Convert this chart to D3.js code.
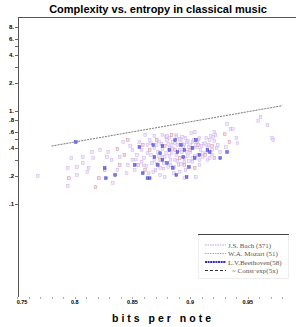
<!DOCTYPE html>
<html>
<head>
<meta charset="utf-8">
<script src="https://cdn.jsdelivr.net/npm/d3@7.9.0/dist/d3.min.js"></script>
<style>
  body { margin: 0; background: #fff; }
  svg { display: block; font-family: "Liberation Sans", Arial, sans-serif; }
</style>
</head>
<body>
<svg id="chart" width="300" height="327"></svg>
<script>
// [bits per note, complexity]
const bach = [
  [0.768,0.200],[0.794,0.244],[0.794,0.156],[0.797,0.312],[0.802,0.250],[0.802,0.205],
  [0.807,0.320],[0.807,0.276],[0.811,0.221],[0.812,0.244],[0.815,0.362],[0.816,0.312],
  [0.822,0.381],[0.828,0.320],[0.829,0.362],[0.832,0.298],[0.833,0.168],[0.837,0.232],
  [0.839,0.320],[0.842,0.464],[0.845,0.215],[0.846,0.263],[0.848,0.420],[0.850,0.298],
  [0.850,0.381],[0.852,0.232],[0.854,0.337],[0.858,0.284],[0.861,0.552],[0.863,0.353],
  [0.865,0.488],[0.867,0.276],[0.869,0.400],[0.870,0.232],[0.872,0.362],[0.874,0.244],
  [0.875,0.442],[0.876,0.320],[0.878,0.320],[0.879,0.526],[0.880,0.488],[0.881,0.250],
  [0.882,0.381],[0.882,0.400],[0.883,0.298],[0.884,0.353],[0.885,0.464],[0.886,0.215],
  [0.887,0.298],[0.888,0.552],[0.889,0.431],[0.890,0.263],[0.891,0.381],[0.892,0.488],
  [0.893,0.526],[0.895,0.312],[0.895,0.431],[0.896,0.232],[0.897,0.362],[0.898,0.476],
  [0.899,0.410],[0.900,0.362],[0.901,0.580],[0.902,0.464],[0.902,0.284],[0.903,0.400],
  [0.904,0.595],[0.905,0.195],[0.906,0.410],[0.907,0.337],[0.908,0.512],[0.909,0.381],
  [0.911,0.353],[0.912,0.442],[0.913,0.452],[0.915,0.298],[0.915,0.410],[0.917,0.488],
  [0.918,0.539],[0.919,0.381],[0.920,0.526],[0.921,0.595],[0.922,0.552],[0.924,0.431],
  [0.926,0.362],[0.931,0.410],[0.932,0.725],[0.935,0.640],[0.937,0.640],[0.940,0.512],
  [0.941,0.452],[0.959,0.781],[0.961,0.862],[0.967,0.707],[0.971,0.512],[0.972,0.488],
  [0.858,0.381],[0.860,0.312],[0.862,0.256],[0.863,0.431],[0.866,0.337],[0.868,0.221],
  [0.869,0.298],[0.871,0.431],[0.873,0.328],[0.876,0.390],[0.877,0.276],[0.879,0.353],
  [0.881,0.442],[0.882,0.328],[0.883,0.263],[0.885,0.390],[0.887,0.452],[0.888,0.337],
  [0.889,0.290],[0.891,0.500],[0.893,0.362],[0.894,0.410],[0.895,0.284],[0.896,0.512],
  [0.898,0.328],[0.900,0.431],[0.902,0.312],[0.903,0.488],[0.905,0.431],[0.907,0.488],
  [0.908,0.298],[0.910,0.420],[0.914,0.512],[0.916,0.431],[0.921,0.476],[0.923,0.400],
  [0.869,0.539],[0.876,0.552],[0.882,0.512],[0.888,0.526],[0.874,0.205],[0.878,0.195],
  [0.891,0.221],[0.908,0.263],[0.917,0.312],[0.895,0.190],[0.856,0.464],[0.866,0.450],
  [0.873,0.470],[0.880,0.540],[0.884,0.430],[0.893,0.440],[0.897,0.460],[0.906,0.470],
  [0.853,0.300],[0.860,0.260],[0.864,0.215],[0.871,0.270],[0.877,0.240],[0.886,0.250],
  [0.892,0.270],[0.899,0.290],[0.904,0.330],[0.911,0.320],[0.914,0.360],[0.919,0.340]
];
const mozart = [
  [0.818,0.152],[0.821,0.190],[0.837,0.390],[0.843,0.337],[0.871,0.488],[0.934,0.464],
  [0.795,0.190],[0.846,0.488],[0.855,0.263],[0.861,0.232],[0.878,0.420],[0.884,0.552],
  [0.891,0.312],[0.900,0.381],[0.907,0.431],[0.913,0.337],[0.921,0.312],[0.930,0.565],
  [0.839,0.263],[0.826,0.232],[0.865,0.381],[0.887,0.381],[0.895,0.263],[0.874,0.298],
  [0.904,0.244],[0.919,0.420],[0.859,0.431]
];
const beethoven = [
  [0.801,0.464],[0.826,0.244],[0.827,0.190],[0.835,0.205],[0.856,0.410],[0.859,0.215],
  [0.863,0.190],[0.865,0.190],[0.868,0.431],[0.869,0.320],[0.876,0.420],[0.876,0.298],
  [0.885,0.244],[0.888,0.205],[0.894,0.320],[0.897,0.195],[0.899,0.250],[0.904,0.312],
  [0.926,0.312],[0.932,0.362],[0.889,0.362],[0.895,0.381],[0.882,0.381],[0.902,0.400],
  [0.908,0.337],[0.874,0.353],[0.880,0.276],[0.892,0.431],[0.915,0.381],[0.917,0.362],
  [0.852,0.263],[0.872,0.263],[0.887,0.488],[0.905,0.488]
];
// fitted curve ~ Const*exp(5x)
const fitConst = 0.0085;
const fitRate = 5;
const fitRange = [0.780, 0.982];

const yLabelTicks = [8, 6, 4, 2, 1, 0.8, 0.6, 0.4, 0.2, 0.1];
const yLabelText = ["8.", "6.", "4.", "2.", "1.", ".8", ".6", ".4", ".2", ".1"];
const yMinorTicks = [5, 3, 0.5, 0.3];
const xLabelTicks = [0.75, 0.8, 0.85, 0.9, 0.95];
const xLabelText = ["0.75", "0.8", "0.85", "0.9", "0.95"];

const legendRows = [
  { label: "J.S. Bach (371)", color: "#c49be8", kind: "dots" },
  { label: "W.A. Mozart (51)", color: "#e08aa8", kind: "dots" },
  { label: "L.V.Beethoven(58)", color: "#3030c0", kind: "thick" },
  { label: "~ Const\u00b7exp(5x)", color: "#333", kind: "dash" }
];

const svg = d3.select("#chart");

const x = d3.scaleLinear().domain([0.75, 0.99]).range([17, 294]);
const y = d3.scaleLog().domain([0.01, 10]).range([297, 18]);

// title
svg.append("text")
  .attr("x", 158).attr("y", 13)
  .attr("text-anchor", "middle")
  .attr("font-size", 11).attr("font-weight", "bold")
  .text("Complexity vs. entropy in classical music");

// frame: top line + left axis
svg.append("line").attr("x1", 18).attr("x2", 296).attr("y1", 17.5).attr("y2", 17.5)
  .attr("stroke", "#555");
svg.append("line").attr("x1", 18.5).attr("x2", 18.5).attr("y1", 17).attr("y2", 297)
  .attr("stroke", "#555");

// y ticks
const yAxis = svg.append("g");
yAxis.selectAll("line.maj").data(yLabelTicks.concat(yMinorTicks)).join("line")
  .attr("x1", 15).attr("x2", 18)
  .attr("y1", d => Math.round(y(d)) + 0.5).attr("y2", d => Math.round(y(d)) + 0.5)
  .attr("stroke", "#666");
yAxis.selectAll("text").data(yLabelTicks).join("text")
  .attr("x", 14).attr("y", d => y(d) + 2)
  .attr("text-anchor", "end")
  .attr("font-size", 6).attr("font-weight", "bold")
  .text((d, i) => yLabelText[i]);

// x ticks
const xMinor = d3.range(0.75, 0.985, 0.01);
const xAxis = svg.append("g");
xAxis.selectAll("line").data(xMinor).join("line")
  .attr("x1", d => Math.round(x(d)) + 0.5).attr("x2", d => Math.round(x(d)) + 0.5)
  .attr("y1", 297).attr("y2", 299)
  .attr("stroke", "#aaa");
xAxis.selectAll("text").data(xLabelTicks).join("text")
  .attr("x", d => x(d) + (d === 0.75 ? 5 : 0)).attr("y", 304)
  .attr("text-anchor", "middle")
  .attr("font-size", 5.5).attr("font-weight", "bold")
  .text((d, i) => xLabelText[i]);

svg.append("text")
  .attr("x", 163).attr("y", 322)
  .attr("text-anchor", "middle")
  .attr("font-size", 10.5).attr("font-weight", "bold")
  .attr("letter-spacing", 3)
  .text("bits per note");

// fit line
const fitPts = d3.range(fitRange[0], fitRange[1] + 0.0001, 0.01).map(b => [b, fitConst * Math.exp(fitRate * b)]);
svg.append("path")
  .datum(fitPts)
  .attr("d", d3.line().x(d => x(d[0])).y(d => y(d[1])))
  .attr("fill", "none").attr("stroke", "#555").attr("stroke-width", 0.8)
  .attr("stroke-dasharray", "2,1");

// scatter
function drawSeries(data, fill, stroke, opacity) {
  svg.append("g").selectAll("rect").data(data).join("rect")
    .attr("x", d => x(d[0]) - 1.3).attr("y", d => y(d[1]) - 1.3)
    .attr("width", 2.6).attr("height", 2.6)
    .attr("fill", fill).attr("fill-opacity", opacity)
    .attr("stroke", stroke).attr("stroke-width", 0.5).attr("stroke-opacity", opacity);
}
drawSeries(bach, "#efe4fc", "#c3a2ee", 0.85);
drawSeries(mozart, "#f6d8de", "#c87088", 0.8);
drawSeries(beethoven, "#6a6ae6", "#3030c8", 0.9);

// legend
const lg = svg.append("g");
lg.append("rect").attr("x", 198.5).attr("y", 234.5).attr("width", 90).attr("height", 44)
  .attr("fill", "#fff").attr("stroke", "#eee");
lg.append("line").attr("x1", 198).attr("x2", 289).attr("y1", 234.5).attr("y2", 234.5)
  .attr("stroke", "#444");
const row = lg.selectAll("g.row").data(legendRows).join("g")
  .attr("transform", (d, i) => `translate(0,${245 + i * 8.5})`);
row.append("line")
  .attr("x1", 205).attr("x2", 226).attr("y1", 0).attr("y2", 0)
  .attr("stroke", d => d.color)
  .attr("stroke-width", d => d.kind === "thick" ? 2 : 1)
  .attr("stroke-dasharray", d => d.kind === "dots" ? "1.5,1" : d.kind === "dash" ? "3,2" : "2,0.6");
row.append("text")
  .attr("x", d => d.kind === "dash" ? 232 : 228).attr("y", 2.5)
  .attr("font-family", "'Liberation Serif', 'Times New Roman', serif")
  .attr("font-size", 7).attr("fill", "#555")
  .text(d => d.label);
</script>
</body>
</html>
